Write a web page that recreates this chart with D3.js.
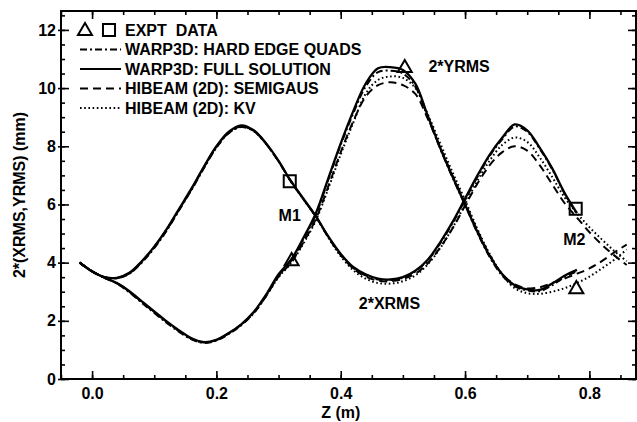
<!DOCTYPE html>
<html><head><meta charset="utf-8">
<script src="https://cdn.jsdelivr.net/npm/d3@7"></script>
<style>
html,body{margin:0;padding:0;background:#fff;}
svg text{font-family:"Liberation Sans",Arial,Helvetica,sans-serif;font-weight:bold;fill:#000;}
</style></head>
<body><svg id="c" width="637" height="422"></svg>
<script>
// ---- data ----
const zGrid = [-0.02,0.00,0.02,0.04,0.06,0.08,0.10,0.12,0.14,0.16,0.18,0.20,0.22,0.24,0.26,0.28,0.30,0.32,0.34,0.36,0.38,0.40,0.42,0.44,0.46,0.48,0.50,0.52,0.54,0.56,0.58,0.60,0.62,0.64,0.66,0.68,0.70,0.72,0.74,0.76,0.78,0.80,0.82,0.84,0.86];

const xrmsFull = [4.00,3.70,3.50,3.48,3.65,4.05,4.55,5.15,5.85,6.55,7.30,8.00,8.50,8.72,8.55,8.10,7.50,6.80,6.20,5.60,4.90,4.30,3.85,3.60,3.45,3.42,3.50,3.72,4.10,4.70,5.40,6.20,7.00,7.72,8.30,8.75,8.55,7.95,7.25,6.40,5.70,null,null,null,null];
const xrmsHard = [4.00,3.70,3.50,3.46,3.62,4.00,4.50,5.10,5.80,6.50,7.25,7.95,8.45,8.66,8.52,8.08,7.48,6.80,6.18,5.58,4.88,4.28,3.82,3.56,3.42,3.40,3.48,3.70,4.08,4.66,5.36,6.15,6.95,7.68,8.25,8.68,8.50,7.92,7.22,6.38,5.68,null,null,null,null];
const xrmsSemi = [4.00,3.70,3.50,3.47,3.63,4.03,4.53,5.13,5.83,6.53,7.28,7.97,8.47,8.68,8.53,8.08,7.48,6.78,6.18,5.58,4.88,4.26,3.80,3.52,3.38,3.36,3.44,3.62,3.98,4.52,5.18,5.96,6.72,7.36,7.80,8.00,7.85,7.35,6.70,6.05,5.55,5.05,4.62,4.25,3.92];
const xrmsKV   = [4.00,3.70,3.50,3.47,3.63,4.03,4.53,5.13,5.83,6.53,7.28,7.97,8.47,8.68,8.53,8.08,7.48,6.78,6.18,5.58,4.86,4.22,3.74,3.45,3.30,3.28,3.36,3.56,3.94,4.50,5.20,6.00,6.82,7.52,8.05,8.30,8.15,7.62,6.95,6.25,5.70,5.22,4.80,4.40,4.05];

const yrmsFull = [4.00,3.70,3.48,3.30,3.02,2.67,2.32,1.98,1.67,1.40,1.27,1.35,1.58,1.88,2.30,2.90,3.60,4.10,4.85,5.70,6.90,8.10,9.20,10.15,10.68,10.72,10.62,10.15,9.05,7.95,6.95,6.00,5.05,4.22,3.60,3.22,3.08,3.06,3.28,3.55,3.75,null,null,null,null];
const yrmsHard = [4.00,3.70,3.48,3.28,2.98,2.62,2.27,1.93,1.62,1.36,1.24,1.32,1.55,1.85,2.26,2.85,3.55,4.05,4.80,5.65,6.85,8.05,9.12,10.05,10.55,10.60,10.50,10.05,9.00,7.92,6.92,5.98,5.02,4.18,3.55,3.18,3.05,3.02,3.22,3.50,3.70,null,null,null,null];
const yrmsSemi = [4.00,3.70,3.48,3.29,3.00,2.65,2.30,1.96,1.65,1.38,1.26,1.34,1.57,1.87,2.28,2.86,3.52,4.00,4.70,5.50,6.62,7.80,8.85,9.70,10.10,10.20,10.10,9.80,8.95,7.95,6.98,6.05,5.10,4.25,3.60,3.25,3.12,3.15,3.30,3.45,3.62,3.80,4.05,4.35,4.62];
const yrmsKV   = [4.00,3.70,3.48,3.29,3.00,2.65,2.30,1.96,1.65,1.38,1.26,1.34,1.57,1.87,2.28,2.86,3.50,3.98,4.66,5.45,6.55,7.72,8.80,9.80,10.28,10.40,10.35,10.00,9.10,8.10,7.10,6.15,5.15,4.28,3.58,3.12,2.95,2.93,3.00,3.12,3.30,3.52,3.80,4.10,4.45];

const triData = [[0.321,4.05],[0.503,10.69],[0.779,3.09]];
const sqData  = [[0.318,6.80],[0.778,5.85]];

const xTicks = [0.0,0.2,0.4,0.6,0.8];
const yTicks = [0,2,4,6,8,10,12];
const legendLabels = ["EXPT  DATA","WARP3D: HARD EDGE QUADS","WARP3D: FULL SOLUTION","HIBEAM (2D): SEMIGAUS","HIBEAM (2D): KV"];
const curveLabels = [["2*YRMS",0.541,10.75],["2*XRMS",0.429,2.59],["M1",0.300,5.62],["M2",0.758,4.80]];

// ---- drawing ----
const svg = d3.select("#c");
const L=61,R=636,T=11,B=379;
const x = d3.scaleLinear().domain([-0.05,0.875]).range([L,R]);
const y = d3.scaleLinear().domain([0,12.65]).range([B,T]);

const styles = {
  full:{dash:null, w:2.3},
  hard:{dash:"7,3,2,3", w:2},
  semi:{dash:"8,5", w:2},
  kv:{dash:"1.6,2.6", w:2}
};
const series = [
  [xrmsHard,"hard"],[xrmsSemi,"semi"],[xrmsKV,"kv"],[xrmsFull,"full"],
  [yrmsHard,"hard"],[yrmsSemi,"semi"],[yrmsKV,"kv"],[yrmsFull,"full"]
];
const line = d3.line().defined(d=>d[1]!=null).x(d=>x(d[0])).y(d=>y(d[1])).curve(d3.curveCatmullRom.alpha(0.5));
series.forEach(([vals,st])=>{
  svg.append("path").attr("d",line(zGrid.map((z,i)=>[z,vals[i]])))
    .attr("fill","none").attr("stroke","#000").attr("stroke-width",styles[st].w)
    .attr("stroke-dasharray",styles[st].dash);
});

// axes
const minorX = d3.range(-0.05,0.8751,0.05).map(v=>+v.toFixed(2));
const minorY = d3.range(0,12.51,0.5);
function axis(gen, tr, ticks, size, fmt, pad){
  const g = svg.append("g").attr("transform",tr)
    .call(gen.tickValues(ticks).tickSizeInner(size).tickSizeOuter(0).tickPadding(pad||3).tickFormat(fmt));
  g.select(".domain").remove();
  g.selectAll("line").attr("stroke","#000").attr("stroke-width",1.6);
  return g;
}
const fx = d3.format(".1f"), fy = d3.format("d"), none = ()=>"";
axis(d3.axisBottom(x),`translate(0,${B})`,minorX,-4,none);
axis(d3.axisTop(x),`translate(0,${T})`,minorX,-4,none);
axis(d3.axisLeft(y),`translate(${L},0)`,minorY,-4,none);
axis(d3.axisRight(y),`translate(${R},0)`,minorY,-4,none);
const gx = axis(d3.axisBottom(x),`translate(0,${B})`,xTicks,-8,fx,9);
gx.selectAll("text").attr("font-size",16);
axis(d3.axisTop(x),`translate(0,${T})`,xTicks,-8,none);
const gy = axis(d3.axisLeft(y),`translate(${L},0)`,yTicks,-8,fy,5);
gy.selectAll("text").attr("font-size",16);
axis(d3.axisRight(y),`translate(${R},0)`,yTicks,-8,none);
gy.selectAll(".tick line").attr("x1",-3);

svg.append("rect").attr("x",L).attr("y",T).attr("width",R-L).attr("height",B-T)
  .attr("fill","none").attr("stroke","#000").attr("stroke-width",2);

svg.append("text").attr("x",x(0.4)).attr("y",418).attr("text-anchor","middle").attr("font-size",16).text("Z (m)");
svg.append("text").attr("transform",`translate(25,${(T+B)/2}) rotate(-90)`).attr("text-anchor","middle").attr("font-size",16).text("2*(XRMS,YRMS) (mm)");

// markers
const tri = d3.symbol().type(d3.symbolTriangle).size(85);
const sq = d3.symbol().type(d3.symbolSquare).size(145);
svg.selectAll(".tri").data(triData).join("path").attr("d",tri)
  .attr("transform",d=>`translate(${x(d[0])},${y(d[1])})`).attr("fill","none").attr("stroke","#000").attr("stroke-width",2);
svg.selectAll(".sq").data(sqData).join("path").attr("d",sq)
  .attr("transform",d=>`translate(${x(d[0])},${y(d[1])})`).attr("fill","none").attr("stroke","#000").attr("stroke-width",2);

// curve labels
curveLabels.forEach(([t,z,v])=>{
  svg.append("text").attr("x",x(z)).attr("y",y(v)).attr("dy","0.36em").attr("font-size",16).text(t);
});

// legend
const lg = svg.append("g");
const rowY = [30,49.5,69,88.5,108];
lg.append("path").attr("d",tri).attr("transform",`translate(85,${rowY[0]+1})`).attr("fill","none").attr("stroke","#000").attr("stroke-width",2);
lg.append("path").attr("d",sq).attr("transform",`translate(109,${rowY[0]})`).attr("fill","none").attr("stroke","#000").attr("stroke-width",2);
["hard","full","semi","kv"].forEach((st,i)=>{
  lg.append("line").attr("x1",80).attr("x2",121).attr("y1",rowY[i+1]).attr("y2",rowY[i+1])
    .attr("stroke","#000").attr("stroke-width",2).attr("stroke-dasharray",styles[st].dash);
});
legendLabels.forEach((t,i)=>{
  lg.append("text").attr("x",125).attr("y",rowY[i]).attr("dy","0.36em").attr("font-size",16)
    .attr("xml:space","preserve").style("white-space","pre").text(t);
});
</script></body></html>
